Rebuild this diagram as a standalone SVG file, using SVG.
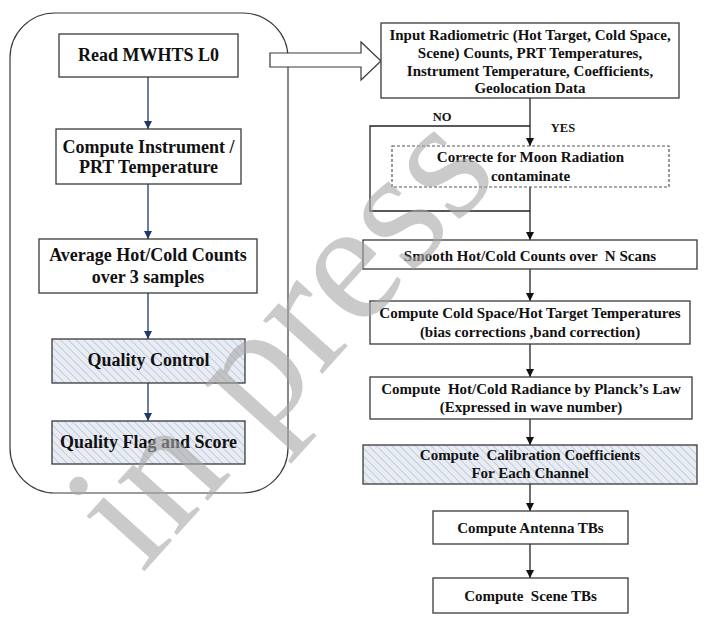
<svg xmlns="http://www.w3.org/2000/svg" width="707" height="629" viewBox="0 0 707 629">
<defs>
<style>
.box{fill:#fff;stroke:#3a3a3a;stroke-width:1.3}
.hat{fill:url(#hatch);stroke:#3a3a3a;stroke-width:1.3}
.dash{fill:#fff;stroke:#555;stroke-width:1.2;stroke-dasharray:3 2}
.tl{font-family:"Liberation Serif","Times New Roman",serif;font-weight:bold;font-size:18px;fill:#111;text-anchor:middle}
.tr{font-family:"Liberation Serif","Times New Roman",serif;font-weight:bold;font-size:15px;fill:#111;text-anchor:middle}
.lab{font-family:"Liberation Serif","Times New Roman",serif;font-weight:bold;font-size:12.5px;fill:#111;text-anchor:middle}
.navy{stroke:#1f3870;stroke-width:1.3;fill:none}
.blk{stroke:#222;stroke-width:1.3;fill:none}
</style>
<pattern id="hatch" patternUnits="userSpaceOnUse" width="5.5" height="5.5" patternTransform="rotate(-45)">
<rect width="5.5" height="5.5" fill="#e8ecf5"/>
<line x1="0" y1="0" x2="0" y2="5.5" stroke="#a3abbb" stroke-width="1"/>
</pattern>
<marker id="an" markerWidth="8" markerHeight="8" refX="8" refY="4" orient="auto" markerUnits="userSpaceOnUse">
<path d="M0,0 L8,4 L0,8 Z" fill="#1f3870"/>
</marker>
<marker id="ab" markerWidth="8" markerHeight="8" refX="8" refY="4" orient="auto" markerUnits="userSpaceOnUse">
<path d="M0,0 L8,4 L0,8 Z" fill="#111"/>
</marker>
</defs>
<rect width="707" height="629" fill="#fff"/>

<rect id="container" x="10" y="13" width="278" height="480" rx="45" ry="45" fill="none" stroke="#3a3a3a" stroke-width="1.2"/>

<g id="connectors">
<line class="navy" x1="148" y1="77" x2="148" y2="129" marker-end="url(#an)"/>
<line class="navy" x1="148" y1="184" x2="148" y2="239" marker-end="url(#an)"/>
<line class="navy" x1="148" y1="293" x2="148" y2="339" marker-end="url(#an)"/>
<line class="navy" x1="148" y1="383" x2="148" y2="421" marker-end="url(#an)"/>
<path d="M270,53 L361,53 L361,42 L381,61 L361,80 L361,67 L270,67 Z" fill="#fff" stroke="#3a3a3a" stroke-width="1.2"/>
<line class="blk" x1="530" y1="98" x2="530" y2="146" marker-end="url(#ab)"/>
<polyline class="blk" points="530,126 370,126 370,211 530,211"/>
<line class="blk" x1="530" y1="187" x2="530" y2="240" marker-end="url(#ab)"/>
<line class="blk" x1="530" y1="269" x2="530" y2="301" marker-end="url(#ab)"/>
<line class="blk" x1="530" y1="344" x2="530" y2="377" marker-end="url(#ab)"/>
<line class="blk" x1="530" y1="419" x2="530" y2="445" marker-end="url(#ab)"/>
<line class="blk" x1="530" y1="484" x2="530" y2="511" marker-end="url(#ab)"/>
<line class="blk" x1="530" y1="544" x2="530" y2="578" marker-end="url(#ab)"/>
<text class="lab" x="442" y="121">NO</text>
<text class="lab" x="563" y="132">YES</text>
</g>

<g id="read">
<rect class="box" x="59" y="34" width="179" height="43"/>
<text class="tl" x="148.5" y="61">Read MWHTS L0</text>
</g>
<g id="instr">
<rect class="box" x="56" y="129" width="185" height="55"/>
<text class="tl" x="148.5" y="153">Compute Instrument /</text>
<text class="tl" x="148.5" y="173">PRT Temperature</text>
</g>
<g id="avg">
<rect class="box" x="39" y="239" width="218" height="54"/>
<text class="tl" x="148" y="261">Average Hot/Cold Counts</text>
<text class="tl" x="148" y="283">over 3 samples</text>
</g>
<g id="qc">
<rect class="hat" x="52" y="339" width="193" height="44"/>
<text class="tl" x="148.5" y="366">Quality Control</text>
</g>
<g id="qf">
<rect class="hat" x="52" y="421" width="193" height="43"/>
<text class="tl" x="148.5" y="448">Quality Flag and Score</text>
</g>

<g id="input">
<rect class="box" x="381" y="23" width="298" height="75"/>
<text class="tr" x="530" y="40">Input Radiometric (Hot Target, Cold Space,</text>
<text class="tr" x="530" y="57.5">Scene) Counts, PRT Temperatures,</text>
<text class="tr" x="530" y="75.5">Instrument Temperature, Coefficients,</text>
<text class="tr" x="530" y="93">Geolocation Data</text>
</g>
<g id="moon">
<rect class="dash" x="392" y="146" width="277" height="41"/>
<text class="tr" x="530.5" y="162">Correcte for Moon Radiation</text>
<text class="tr" x="530.5" y="181">contaminate</text>
</g>
<g id="smooth">
<rect class="box" x="363" y="240" width="334" height="29"/>
<text class="tr" x="530" y="261" xml:space="preserve">Smooth Hot/Cold Counts over  N Scans</text>
</g>
<g id="coldspace">
<rect class="box" x="370" y="301" width="320" height="43"/>
<text class="tr" x="530" y="318">Compute Cold Space/Hot Target Temperatures</text>
<text class="tr" x="530" y="337">(bias corrections ,band correction)</text>
</g>
<g id="planck">
<rect class="box" x="370" y="377" width="322" height="42"/>
<text class="tr" x="531" y="394" xml:space="preserve">Compute  Hot/Cold Radiance by Planck’s Law</text>
<text class="tr" x="531" y="412">(Expressed in wave number)</text>
</g>
<g id="calib">
<rect class="hat" x="363" y="445" width="334" height="39"/>
<text class="tr" x="530" y="460" xml:space="preserve">Compute  Calibration Coefficients</text>
<text class="tr" x="530" y="478">For Each Channel</text>
</g>
<g id="antenna">
<rect class="box" x="433" y="511" width="195" height="33"/>
<text class="tr" x="530.5" y="533">Compute Antenna TBs</text>
</g>
<g id="scene">
<rect class="box" x="433" y="578" width="195" height="35"/>
<text class="tr" x="530.5" y="601" xml:space="preserve">Compute  Scene TBs</text>
</g>

<text id="watermark" transform="translate(142,574) rotate(-48)" font-family="'Liberation Serif','Times New Roman',serif" font-size="174" fill="#a8a8a8" opacity="0.6">in press</text>
</svg>
